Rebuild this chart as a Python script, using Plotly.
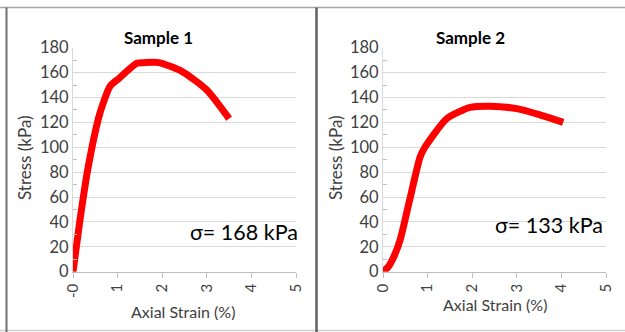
import plotly.graph_objects as go
from plotly.subplots import make_subplots

# Stress-strain data for the two unconfined compression samples
strain_1 = [0, 0.15, 0.34, 0.6, 0.83, 1.02, 1.43, 1.6, 1.93, 2.44, 3.0, 3.5]
stress_1 = [0, 40, 84, 127, 149, 155, 167.5, 168, 168, 161, 146, 123]

strain_2 = [0, 0.12, 0.23, 0.38, 0.6, 0.83, 0.94, 1.43, 1.95, 2.4, 3.0, 3.52, 4.04]
stress_2 = [0, 4, 11, 25, 58, 92, 100, 123, 132, 133, 131, 126, 120]

titles = ["Sample 1", "Sample 2"]
peak_labels = ["σ= 168 kPa", "σ= 133 kPa"]
x_ticks = [0, 1, 2, 3, 4, 5]
x_tick_text_1 = ["-0", "1", "2", "3", "4", "5"]
x_tick_text_2 = ["0", "1", "2", "3", "4", "5"]
y_ticks = list(range(0, 181, 20))

W, H = 625, 332
FONT = "Lato, Open Sans, sans-serif"
TXT = "#404040"

fig = make_subplots(rows=1, cols=2)

for i, (xs, ys) in enumerate([(strain_1, stress_1), (strain_2, stress_2)]):
    fig.add_trace(
        go.Scatter(x=xs, y=ys, mode="lines", line=dict(color="#ff0000", width=7, shape="spline", smoothing=0.6),
                   showlegend=False, hoverinfo="skip"),
        row=1, col=i + 1)

# plot areas in pixels: left 73-296, right 383-606, top 47.7, bottom 271.7
dom_y = [(H - 271.7) / H, (H - 47.7) / H]
doms_x = [[73 / W, 296 / W], [383 / W, 606 / W]]

for i in range(2):
    xa = "xaxis" if i == 0 else "xaxis2"
    ya = "yaxis" if i == 0 else "yaxis2"
    fig.layout[xa].update(
        domain=doms_x[i], range=[0, 5], tickvals=x_ticks, automargin=False,
        ticktext=x_tick_text_1 if i == 0 else x_tick_text_2,
        tickangle=-90, showgrid=False, zeroline=False,
        showline=True, linecolor="#bfbfbf", linewidth=1,
        ticks="outside", ticklen=5, tickcolor="#bfbfbf",
        tickfont=dict(family=FONT, size=15, color=TXT))
    fig.layout[ya].update(
        domain=dom_y, range=[0, 180], tickvals=y_ticks, automargin=False,
        showgrid=True, gridcolor="#d9d9d9", gridwidth=1, zeroline=False,
        showline=True, linecolor="#d9d9d9", linewidth=1,
        ticks="", tickfont=dict(family=FONT, size=16.5, color=TXT),
        minor=dict(tickvals=list(range(10, 180, 20)), ticks="inside", ticklen=4, tickcolor="#bfbfbf", showgrid=False))

anns = []
title_x = [158, 470]
ytitle_x = [25, 336]
xtitle = [(183, 311), (495, 304)]
peak_pos = [(300, 232), (605, 225)]
for i in range(2):
    anns.append(dict(text="<b>" + titles[i] + "</b>", x=title_x[i] / W, y=1 - 37 / H, xref="paper", yref="paper",
                     showarrow=False, font=dict(family=FONT, size=17, color="#000000"), xanchor="center", yanchor="middle"))
    anns.append(dict(text="Stress (kPa)", x=ytitle_x[i] / W, y=1 - 158 / H, xref="paper", yref="paper", textangle=-90,
                     showarrow=False, font=dict(family=FONT, size=17, color=TXT), xanchor="center", yanchor="middle"))
    anns.append(dict(text="Axial Strain (%)", x=xtitle[i][0] / W, y=1 - xtitle[i][1] / H, xref="paper", yref="paper",
                     showarrow=False, font=dict(family=FONT, size=16, color=TXT), xanchor="center", yanchor="middle"))
    anns.append(dict(text=peak_labels[i], x=peak_pos[i][0] / W, y=1 - peak_pos[i][1] / H, xref="paper", yref="paper",
                     showarrow=False, font=dict(family=FONT, size=21.5, color="#000000"), xanchor="right", yanchor="middle"))

# panel frames
def px_line(x0, y0, x1, y1, color, width):
    return dict(type="line", xref="paper", yref="paper", x0=x0 / W, x1=x1 / W, y0=1 - y0 / H, y1=1 - y1 / H,
                line=dict(color=color, width=width))

shapes = [
    px_line(0, 7.5, W, 7.5, "#a6a6a6", 1.5),
    px_line(0, 330.5, W, 330.5, "#d0d0d0", 1.5),
    px_line(6.5, 7.5, 6.5, 332, "#707070", 2),
    px_line(316.5, 7.5, 316.5, 332, "#606060", 2.5),
]

fig.update_layout(
    width=W, height=H, margin=dict(l=0, r=0, t=0, b=0, pad=0, autoexpand=False),
    paper_bgcolor="white", plot_bgcolor="white",
    annotations=anns, shapes=shapes)

fig.write_html("out.html")
